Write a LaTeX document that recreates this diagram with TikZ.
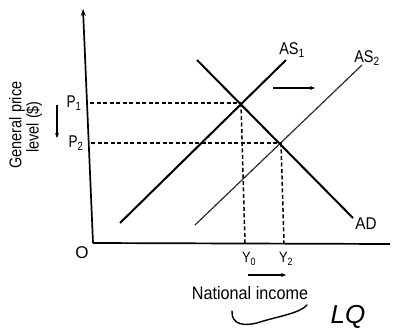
\documentclass[tikz,border=0pt]{standalone}
\usepackage{fontspec}
\usepackage{graphicx}
\setmainfont{Liberation Sans}
\usetikzlibrary{arrows.meta}
\newcommand\narrowtxt[2]{\scalebox{#1}[1]{#2}}
\begin{document}
\begin{tikzpicture}[x=1pt,y=-1pt,
  axisline/.style={line width=1.7pt},
  curve/.style={line width=2pt},
  shifted/.style={line width=1.3pt, dash pattern=on 1.3pt off 0.5pt, black!90},
  guide/.style={line width=1.5pt, dash pattern=on 4pt off 2.5pt},
  lbl/.style={font=\fontsize{17}{19}\selectfont, inner sep=0pt},
  smlbl/.style={font=\fontsize{15}{17}\selectfont, inner sep=0pt},
  ttl/.style={font=\fontsize{17}{19}\selectfont, inner sep=0pt},
  mover/.style={line width=1.1pt, -{Stealth[length=5pt,width=4pt]}},
  hand/.style={line width=1.4pt, line cap=round}]
\useasboundingbox (0,0) rectangle (393,332);
% axes
\coordinate (ytop) at (83,9);
\coordinate (O) at (93,243);
\coordinate (xend) at (390,244);
\draw[axisline, -{Stealth[length=7pt,width=5pt]}] (O) -- (ytop);
\draw[axisline] (O) -- (xend);
% curves
\coordinate (as1a) at (120,223);
\coordinate (as1b) at (286,60);
\coordinate (as2a) at (195,225);
\coordinate (as2b) at (362,65);
\coordinate (ada) at (197,60);
\coordinate (adb) at (353,218);
\draw[curve] (as1a) -- (as1b);
\draw[curve] (ada) -- (adb);
\draw[shifted] (as2a) -- (as2b);
% equilibria and guides
\coordinate (E1) at (241,103);
\coordinate (E2) at (281,143);
\coordinate (p1ax) at (90,103);
\coordinate (p2ax) at (91,143);
\coordinate (y0ax) at (245,243);
\coordinate (y2ax) at (284,243);
\draw[guide] (p1ax) -- (E1);
\draw[guide] (p2ax) -- (E2);
\draw[guide] (E1) -- (y0ax);
\draw[guide] (E2) -- (y2ax);
% labels
\node[lbl] (P1) at (74,103) {\narrowtxt{0.8}{P\textsubscript{1}}};
\node[lbl] (P2) at (76,143) {\narrowtxt{0.8}{P\textsubscript{2}}};
\node[lbl] (Olbl) at (82,253) {O};
\node[smlbl] (Y0) at (249,259) {\narrowtxt{0.85}{Y\textsubscript{0}}};
\node[smlbl] (Y2) at (286,259) {\narrowtxt{0.85}{Y\textsubscript{2}}};
\node[lbl] (AS1) at (292,50) {\narrowtxt{0.85}{AS\textsubscript{1}}};
\node[lbl] (AS2) at (367,58) {\narrowtxt{0.85}{AS\textsubscript{2}}};
\node[lbl] (AD) at (366,224) {\narrowtxt{0.9}{AD}};
\node[font=\fontsize{18}{20}\selectfont, inner sep=0pt] (xlab) at (250,293) {\narrowtxt{0.9}{National income}};
\node[ttl, rotate=90] (ylab1) at (17,125) {\narrowtxt{0.85}{General price}};
\node[ttl, rotate=90] (ylab2) at (34,127) {\narrowtxt{0.85}{level (\$)}};
% shift arrows
\coordinate (r1) at (273,88);
\coordinate (r2) at (315,88);
\draw[mover] (r1) -- (r2);
\coordinate (d1) at (57,105);
\coordinate (d2) at (57,138);
\draw[mover] (d1) -- (d2);
\coordinate (h1) at (248,275);
\coordinate (h2) at (286,275);
\draw[mover] (h1) -- (h2);
% handwritten note
\coordinate (c1) at (232,311);
\coordinate (c2) at (260,322);
\coordinate (c3) at (307,305);
\draw[hand] (c1) .. controls (231,325) and (245,327) .. (c2) .. controls (280,316) and (300,313) .. (c3);
\node[font=\fontsize{26}{28}\selectfont\itshape, inner sep=0pt] (LQ) at (348,317) {LQ};
\end{tikzpicture}
\end{document}
